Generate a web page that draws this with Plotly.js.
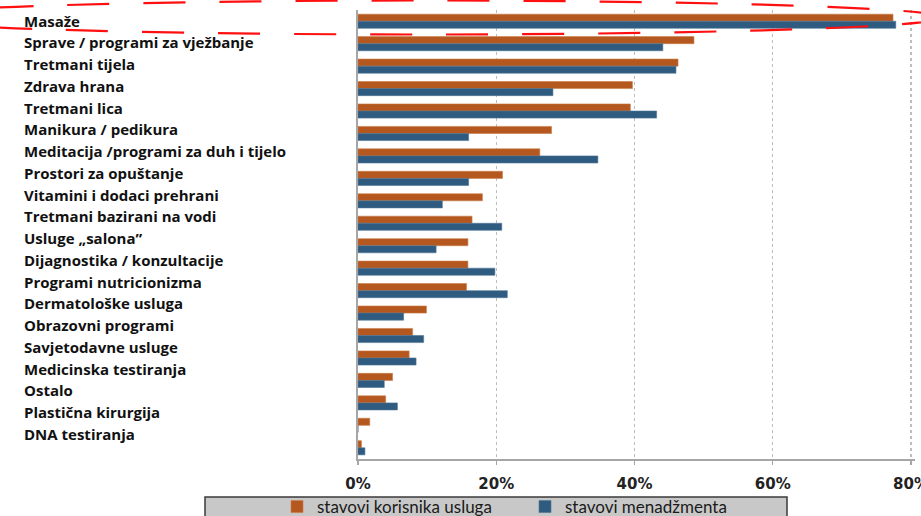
<!DOCTYPE html>
<html><head><meta charset="utf-8">
<script src="https://cdn.plot.ly/plotly-3.0.1.min.js"></script>
<style>html,body{margin:0;padding:0;background:#fff;overflow:hidden}#chart{width:921px;height:516px}</style>
</head><body><div id="chart"></div>
<script>
const categories = [
  "Masaže",
  "Sprave / programi za vježbanje",
  "Tretmani tijela",
  "Zdrava hrana",
  "Tretmani lica",
  "Manikura / pedikura",
  "Meditacija /programi za duh i tijelo",
  "Prostori za opuštanje",
  "Vitamini i dodaci prehrani",
  "Tretmani bazirani na vodi",
  "Usluge „salona”",
  "Dijagnostika / konzultacije",
  "Programi nutricionizma",
  "Dermatološke usluga",
  "Obrazovni programi",
  "Savjetodavne usluge",
  "Medicinska testiranja",
  "Ostalo",
  "Plastična kirurgija",
  "DNA testiranja"
];
const korisnici = [77.4, 48.6, 46.3, 39.7, 39.4, 28.0, 26.3, 20.9, 18.0, 16.5, 15.9, 15.9, 15.7, 9.9, 7.9, 7.4, 5.0, 4.0, 1.7, 0.5];
const menadzment = [77.8, 44.1, 46.0, 28.2, 43.2, 16.0, 34.7, 16.0, 12.2, 20.8, 11.3, 19.8, 21.6, 6.6, 9.5, 8.4, 3.8, 5.7, 0, 1.0];
const seriesNames = ["stavovi korisnika usluga", "stavovi menadžmenta"];
const tickValues = [0, 20, 40, 60, 80];
const tickLabels = ["0%", "20%", "40%", "60%", "80%"];

const W = 921, H = 516, L = 358, R = 6, T = 10, B = 57;
const pw = W - L - R, ph = H - T - B;
const px = x => (x - L) / pw;
const py = y => (H - B - y) / ph;

const traces = [
  {type: 'bar', orientation: 'h', name: seriesNames[0], y: categories, x: korisnici,
   marker: {color: '#B5581F', line: {color: '#C97A45', width: 0.6}}},
  {type: 'bar', orientation: 'h', name: seriesNames[1], y: categories, x: menadzment,
   marker: {color: '#2F5B80', line: {color: '#4E7596', width: 0.6}}}
];

const annotations = categories.map((c, i) => ({
  text: c, xref: 'paper', yref: 'paper', x: px(22), y: py(20.5 + i * 21.76),
  xanchor: 'left', yanchor: 'middle', showarrow: false,
  font: {family: 'Open Sans', size: 15, weight: 700, color: '#111'}
}));

const layout = {
  width: W, height: H,
  margin: {l: L, r: R, t: T, b: B, pad: 0, autoexpand: false},
  paper_bgcolor: '#fff', plot_bgcolor: '#fff',
  barmode: 'group', bargap: 0.37, bargroupgap: 0,
  showlegend: true,
  legend: {orientation: 'h', x: px(277), y: py(489), xanchor: 'left', yanchor: 'top',
    bgcolor: 'rgba(0,0,0,0)', borderwidth: 0, traceorder: 'normal',
    entrywidth: 203, entrywidthmode: 'pixels',
    font: {family: 'Lato', size: 17, color: '#1a1a1a'}},
  xaxis: {range: [0, 80.58], tickvals: tickValues, ticktext: tickLabels,
    showgrid: true, gridcolor: '#bdbdbd', griddash: 'dot', gridwidth: 1.5,
    zeroline: false, showline: true, linecolor: '#a6a6a6', linewidth: 2,
    ticks: 'outside', ticklen: 4, tickcolor: '#a6a6a6', tickwidth: 1.5,
    ticklabelstandoff: 6, ticklabeloverflow: 'allow',
    tickfont: {family: 'DejaVu Sans', size: 15, weight: 700, color: '#222'}, fixedrange: true},
  yaxis: {type: 'category', autorange: 'reversed', showticklabels: false, ticks: '',
    showgrid: false, zeroline: false, showline: true, linecolor: '#a6a6a6', linewidth: 2, fixedrange: true},
  annotations: annotations,
  shapes: [
    {type: 'rect', xref: 'paper', yref: 'paper', x0: px(205), x1: px(787), y0: py(497), y1: py(530),
     fillcolor: '#c8c8c8', line: {color: '#3a3a3a', width: 1.5}, layer: 'below'},
    {type: 'circle', xref: 'paper', yref: 'paper', x0: px(-101), x1: px(943), y0: py(0.5), y1: py(34.5),
     line: {color: '#ff1010', width: 2.2, dash: '42px,34px'}, layer: 'above'}
  ]
};

Plotly.newPlot('chart', traces, layout, {displayModeBar: false, staticPlot: true});
</script>
</body></html>
